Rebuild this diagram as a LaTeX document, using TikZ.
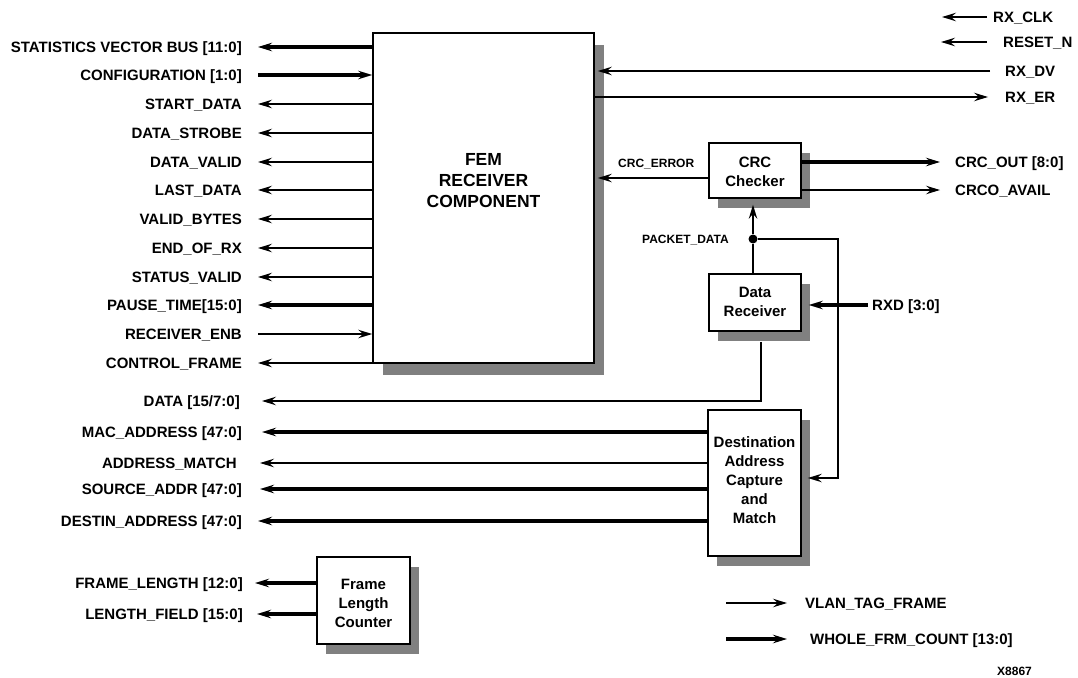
\documentclass[tikz,border=0pt]{standalone}
\usepackage{fontspec}
\setmainfont{Liberation Sans}
\usetikzlibrary{arrows.meta,shadows,calc}
\definecolor{shadowc}{RGB}{128,128,128}
\tikzset{
  sarr/.tip={Stealth[length=14pt,width=8.5pt,inset=5pt]},
  sigline/.style={line width=1.3pt},
  busline/.style={line width=3.2pt},
  lbl/.style={inner sep=0pt, font=\fontsize{15}{18}\selectfont\bfseries, text height=10.7pt, text depth=0pt},
  lbll/.style={lbl, anchor=east},
  lblr/.style={lbl, anchor=west},
  small/.style={inner sep=0pt, font=\fontsize{12}{14}\selectfont\bfseries, text height=8.6pt, text depth=0pt},
  block/.style={draw, line width=1.6pt, fill=white, inner sep=0pt},
  shd/.style={drop shadow={shadow xshift=9pt, shadow yshift=-10pt, fill=shadowc, opacity=1}},
  shdbig/.style={drop shadow={shadow xshift=10pt, shadow yshift=-12pt, fill=shadowc, opacity=1}},
  btext/.style={inner sep=0pt, align=center, anchor=north, font=\fontsize{15}{19}\selectfont\bfseries},
  femtext/.style={inner sep=0pt, align=center, anchor=north, font=\fontsize{17.5}{21}\selectfont\bfseries},
  jdot/.style={circle, fill=black, inner sep=0pt, minimum size=9pt},
}
\begin{document}
\begin{tikzpicture}[x=1pt,y=-1pt]
\useasboundingbox (0,0) rectangle (1078,677);

% ---------- blocks ----------
\node[block, shdbig, minimum width=221pt, minimum height=330pt] (fem) at (483.5,198) {};
\node[femtext] (femt) at (483.5,153.5) {FEM\\RECEIVER\\COMPONENT};

\node[block, shd, minimum width=92pt, minimum height=55pt] (crc) at (755,170.5) {};
\node[btext] (crct) at (755,157) {CRC\\Checker};

\node[block, shd, minimum width=92pt, minimum height=57pt] (dr) at (755,302.5) {};
\node[btext] (drt) at (755,287) {Data\\Receiver};

\node[block, shd, minimum width=93pt, minimum height=146pt] (dest) at (754.5,483) {};
\node[btext] (destt) at (754.5,436) {Destination\\Address\\Capture\\and\\Match};

\node[block, shd, minimum width=93pt, minimum height=87pt] (flc) at (363.5,600.5) {};
\node[btext] (flct) at (363.5,579) {Frame\\Length\\Counter};

% ---------- left side of FEM ----------
\coordinate (c1) at (258,47);  \node[lbll] (t1) at (242,47) {STATISTICS VECTOR BUS [11:0]};
\draw[busline,-sarr] (fem.west |- c1) -- (c1);
\coordinate (c2) at (258,75);  \node[lbll] (t2) at (242,75) {CONFIGURATION [1:0]};
\draw[busline,-sarr] (c2) -- (fem.west |- c2);
\coordinate (c3) at (258,104); \node[lbll] (t3) at (242,104) {START\_DATA};
\draw[sigline,-sarr] (fem.west |- c3) -- (c3);
\coordinate (c4) at (258,133); \node[lbll] (t4) at (242,133) {DATA\_STROBE};
\draw[sigline,-sarr] (fem.west |- c4) -- (c4);
\coordinate (c5) at (258,162); \node[lbll] (t5) at (242,162) {DATA\_VALID};
\draw[sigline,-sarr] (fem.west |- c5) -- (c5);
\coordinate (c6) at (258,190); \node[lbll] (t6) at (242,190) {LAST\_DATA};
\draw[sigline,-sarr] (fem.west |- c6) -- (c6);
\coordinate (c7) at (258,219); \node[lbll] (t7) at (242,219) {VALID\_BYTES};
\draw[sigline,-sarr] (fem.west |- c7) -- (c7);
\coordinate (c8) at (258,248); \node[lbll] (t8) at (242,248) {END\_OF\_RX};
\draw[sigline,-sarr] (fem.west |- c8) -- (c8);
\coordinate (c9) at (258,277); \node[lbll] (t9) at (242,277) {STATUS\_VALID};
\draw[sigline,-sarr] (fem.west |- c9) -- (c9);
\coordinate (c10) at (258,305); \node[lbll] (t10) at (242,305) {PAUSE\_TIME[15:0]};
\draw[busline,-sarr] (fem.west |- c10) -- (c10);
\coordinate (c11) at (258,334); \node[lbll] (t11) at (242,334) {RECEIVER\_ENB};
\draw[sigline,-sarr] (c11) -- (fem.west |- c11);
\coordinate (c12) at (258,363); \node[lbll] (t12) at (242,363) {CONTROL\_FRAME};
\draw[sigline,-sarr] (fem.west |- c12) -- (c12);

% ---------- right side of FEM ----------
\coordinate (rclk) at (987,17); \coordinate (rclke) at (942,17);
\node[lblr] (rclkt) at (993,17) {RX\_CLK};
\draw[sigline,-sarr] (rclk) -- (rclke);
\coordinate (rrst) at (987,42); \coordinate (rrste) at (941,42);
\node[lblr] (rrstt) at (1003,42) {RESET\_N};
\draw[sigline,-sarr] (rrst) -- (rrste);
\coordinate (rdv) at (990,71);
\node[lblr] (rdvt) at (1005,71) {RX\_DV};
\draw[sigline,-sarr] (rdv) -- ($(fem.east |- rdv)+(3,0)$);
\coordinate (rer) at (988,97);
\node[lblr] (rert) at (1005,97) {RX\_ER};
\draw[sigline,-sarr] (fem.east |- rer) -- (rer);

% ---------- CRC checker ----------
\coordinate (crcerr) at (0,178);
\draw[sigline,-sarr] (crc.west |- crcerr) -- ($(fem.east |- crcerr)+(3,0)$);
\node[small, anchor=west] (crcerrt) at (618,163) {CRC\_ERROR};
\coordinate (cout) at (940,162);
\node[lblr] (coutt) at (955,162) {CRC\_OUT [8:0]};
\draw[busline,-sarr] (crc.east |- cout) -- (cout);
\coordinate (cav) at (940,190);
\node[lblr] (cavt) at (955,190) {CRCO\_AVAIL};
\draw[sigline,-sarr] (crc.east |- cav) -- (cav);

% ---------- packet data ----------
\node[jdot] (pd) at (753,239) {};
\node[small, anchor=east] (pdt) at (729,239) {PACKET\_DATA};
\draw[sigline] (dr.north -| pd) -- (pd);
\draw[sigline,-sarr] (pd) -- ($(crc.south -| pd)+(0,6)$);
\coordinate (bend) at (838,478);
\draw[sigline,-sarr] (pd) -| (bend) -- ($(dest.east |- bend)+(6,0)$);

% ---------- data receiver ----------
\coordinate (rxd) at (868,305);
\node[lblr] (rxdt) at (872,305) {RXD [3:0]};
\draw[busline,-sarr] (rxd) -- ($(dr.east |- rxd)+(7,0)$);
\coordinate (dbend) at (761,401);
\coordinate (dout) at (262,401);
\node[lbll] (doutt) at (240,401) {DATA [15/7:0]};
\draw[sigline,-sarr] ($(dr.south -| dbend)+(0,10)$) -- (dbend) -- (dout);

% ---------- destination ----------
\coordinate (m1) at (262,432); \node[lbll] (m1t) at (242,432) {MAC\_ADDRESS [47:0]};
\draw[busline,-sarr] (dest.west |- m1) -- (m1);
\coordinate (m2) at (260,463); \node[lbll] (m2t) at (237,463) {ADDRESS\_MATCH};
\draw[sigline,-sarr] (dest.west |- m2) -- (m2);
\coordinate (m3) at (260,489); \node[lbll] (m3t) at (242,489) {SOURCE\_ADDR [47:0]};
\draw[busline,-sarr] (dest.west |- m3) -- (m3);
\coordinate (m4) at (258,521); \node[lbll] (m4t) at (242,521) {DESTIN\_ADDRESS [47:0]};
\draw[busline,-sarr] (dest.west |- m4) -- (m4);

% ---------- frame length counter ----------
\coordinate (f1) at (255,583); \node[lbll] (f1t) at (243,583) {FRAME\_LENGTH [12:0]};
\draw[busline,-sarr] (flc.west |- f1) -- (f1);
\coordinate (f2) at (257,614); \node[lbll] (f2t) at (243,614) {LENGTH\_FIELD [15:0]};
\draw[busline,-sarr] (flc.west |- f2) -- (f2);

% ---------- legend ----------
\coordinate (v1) at (726,603); \coordinate (v2) at (787,603);
\draw[sigline,-sarr] (v1) -- (v2);
\node[lblr] (vt) at (805,603) {VLAN\_TAG\_FRAME};
\coordinate (w1) at (726,639); \coordinate (w2) at (787,639);
\draw[busline,-sarr] (w1) -- (w2);
\node[lblr] (wt) at (810,639) {WHOLE\_FRM\_COUNT [13:0]};

\node[small, anchor=west] (xid) at (997,671) {X8867};
\end{tikzpicture}
\end{document}
